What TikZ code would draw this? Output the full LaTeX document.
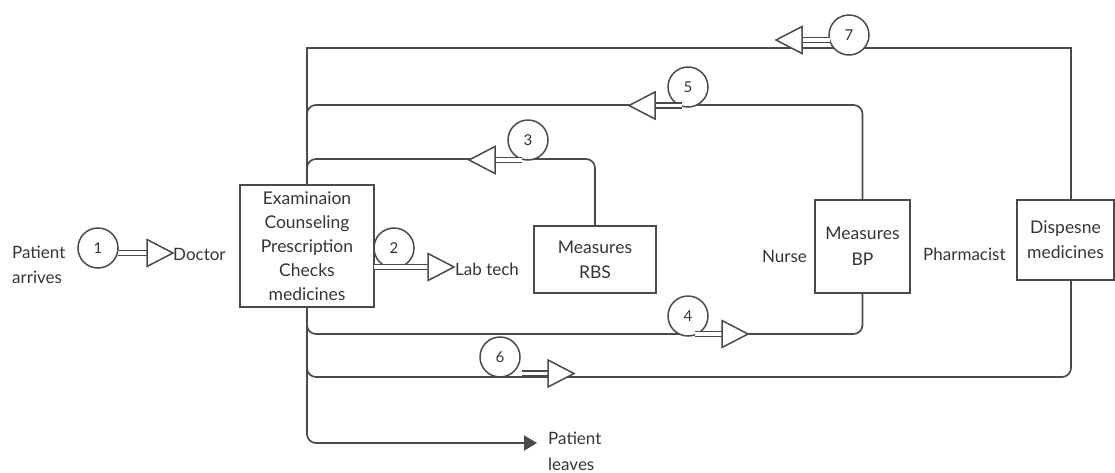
\documentclass[tikz,border=0pt]{standalone}
\usepackage{fontspec}
\setmainfont{Lato}
\usetikzlibrary{arrows.meta,calc}
\definecolor{lc}{HTML}{4A4A4A}
\definecolor{tc}{HTML}{353535}
\tikzset{
  ln/.style={draw=lc, line width=1.7pt},
  box/.style={draw=lc, line width=1.7pt, fill=white, inner sep=0pt, align=center, text=tc,
    font={\fontsize{17.5}{24}\selectfont}},
  lbl/.style={inner sep=0pt, text=tc, font={\fontsize{17}{25}\selectfont}},
  num/.style={circle, draw=lc, line width=1.5pt, fill=white, minimum size=40pt, inner sep=0pt,
    text=tc, font={\fontsize{15}{18}\selectfont}},
  tri/.style={draw=lc, fill=white, line width=1.5pt, line join=miter},
  shaft/.style={draw=lc, double=white, double distance=3.6pt, line width=1.5pt},
  trR/.pic={\draw[tri] (0,-13.5) -- (26,0) -- (0,13.5) -- cycle;},
  trL/.pic={\draw[tri] (0,-13.5) -- (-26,0) -- (0,13.5) -- cycle;},
}
\begin{document}
\begin{tikzpicture}[x=1pt,y=-1pt]
\useasboundingbox[fill=white] (0,0) rectangle (1115,472);

% boxes
\node[box, minimum width=134pt, minimum height=122pt] (doc) at (307,246)
  {Examinaion\\Counseling\\Prescription\\Checks\\medicines};
\node[box, minimum width=122pt, minimum height=67pt, font={\fontsize{17.5}{25}\selectfont}] (rbs) at (595,259.5)
  {Measures\\RBS};
\node[box, minimum width=95pt, minimum height=93pt, font={\fontsize{17.5}{26}\selectfont}] (bp) at (862.5,246.5)
  {Measures\\BP};
\node[box, minimum width=97pt, minimum height=80pt, font={\fontsize{17.5}{25}\selectfont}] (disp) at (1065.5,240)
  {Dispesne\\medicines};

% labels
\node[lbl, anchor=west, align=left] (pa) at (12,265) {Patient\\arrives};
\node[lbl, anchor=west] (docl) at (173,254) {Doctor};
\node[lbl, anchor=west] (lab) at (455,269) {Lab tech};
\node[lbl, anchor=east] (nurse) at (807,256) {Nurse};
\node[lbl, anchor=west] (ph) at (923,254) {Pharmacist};
\node[lbl, anchor=west, align=left, font={\fontsize{17}{26}\selectfont}] (pl) at (548,451) {Patient\\leaves};

% connection points
\coordinate (dt) at ($(disp.north)+(5.5,0)$);
\coordinate (db) at ($(disp.south)+(5.5,0)$);
\coordinate (y7) at (0,48);
\coordinate (y5) at (0,105);
\coordinate (y3) at (0,159);
\coordinate (y4) at (0,334);
\coordinate (y6) at (0,377);
\coordinate (yl) at (0,443);
\coordinate (lv) at (537,443);

% loops
\draw[ln] (doc.north) -- (doc.north |- y7) -- (dt |- y7) -- (dt);
\draw[ln, rounded corners=9pt] (doc.north) -- (doc.north |- y5) -- (bp.north |- y5) -- (bp.north);
\draw[ln, rounded corners=9pt] (doc.north) -- (doc.north |- y3) -- (rbs.north |- y3) -- (rbs.north);
\draw[ln, rounded corners=9pt] (doc.south) -- (doc.south |- y4) -- (bp.south |- y4) -- (bp.south);
\draw[ln, rounded corners=9pt] (doc.south) -- (doc.south |- y6) -- (db |- y6) -- (db);
\draw[ln, rounded corners=9pt, -{Triangle[length=13pt,width=15pt]}] (doc.south) -- (doc.south |- yl) -- (lv);

% numbered circles
\node[num] (c1) at (98,248) {1};
\node[num] (c2) at (394,248) {2};
\node[num] (c3) at (528,140) {3};
\node[num] (c4) at (688,316) {4};
\node[num] (c5) at (688,87) {5};
\node[num] (c6) at (500,357) {6};
\node[num] (c7) at (849,35) {7};

% arrow markers: shaft start (a) and triangle base (s)
\coordinate (a1) at (118,253);   \coordinate (s1) at (147,253);
\coordinate (a2) at (374,267);   \coordinate (s2) at (428,267);
\coordinate (a3) at (522,160);   \coordinate (s3) at (495,160);
\coordinate (a4) at (695,334);   \coordinate (s4) at (722,334);
\coordinate (a5) at (682,105.5); \coordinate (s5) at (655,105.5);
\coordinate (a6) at (522,373.5); \coordinate (s6) at (548,373.5);
\coordinate (a7) at (830,40);    \coordinate (s7) at (802,40);

\draw[shaft] (a1) -- (s1); \pic at (s1) {trR};
\draw[shaft] (a2) -- (s2); \pic at (s2) {trR};
\draw[shaft] (a3) -- (s3); \pic at (s3) {trL};
\draw[shaft] (a4) -- (s4); \pic at (s4) {trR};
\draw[shaft] (a5) -- (s5); \pic at (s5) {trL};
\draw[shaft] (a6) -- (s6); \pic at (s6) {trR};
\draw[shaft] (a7) -- (s7); \pic at (s7) {trL};
\end{tikzpicture}
\end{document}
